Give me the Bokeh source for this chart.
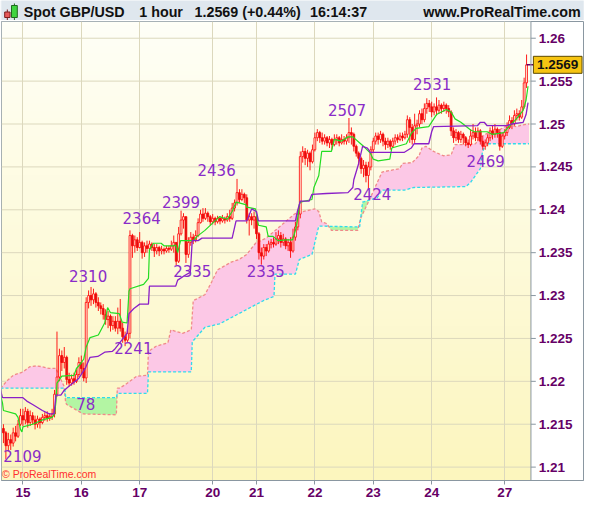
import numpy as np
from bokeh.plotting import figure
from bokeh.layouts import column
from bokeh.models import Range1d, FixedTicker, Span
from bokeh.embed import file_html
from bokeh.resources import INLINE
from bokeh.core.properties import value

# ---------------- data ----------------
day_labels = ["15", "16", "17", "20", "21", "22", "23", "24", "27"]
day_start_bar = [8, 32, 56, 86, 104, 128, 152, 176, 206]
price_ticks = [1.21, 1.215, 1.22, 1.225, 1.23, 1.235, 1.24, 1.245, 1.25, 1.255, 1.26]

first_open = 1.2145
close = [
    1.2140, 1.2125, 1.2132, 1.2128, 1.2140, 1.2136, 1.2150, 1.2160, 1.2155, 1.2165,
    1.2152, 1.2160, 1.2155, 1.2150, 1.2156, 1.2152, 1.2158, 1.2160, 1.2157, 1.2159,
    1.2162, 1.2185, 1.2205, 1.2230, 1.2222, 1.2228, 1.2202, 1.2198, 1.2203, 1.2200,
    1.2208, 1.2222, 1.2215, 1.2204, 1.2292, 1.2300, 1.2295, 1.2302, 1.2292, 1.2288,
    1.2285, 1.2278, 1.2272, 1.2276, 1.2265, 1.2270, 1.2262, 1.2270, 1.2262, 1.2252,
    1.2248, 1.2256, 1.2370, 1.2358, 1.2365, 1.2356, 1.2362, 1.2350, 1.2358, 1.2355,
    1.2360, 1.2356, 1.2352, 1.2356, 1.2352, 1.2354, 1.2352, 1.2355, 1.2354, 1.2358,
    1.2362, 1.2340, 1.2372, 1.2388, 1.2392, 1.2348, 1.2362, 1.2368, 1.2365, 1.2370,
    1.2385, 1.2395, 1.2390, 1.2396, 1.2392, 1.2386, 1.2390, 1.2386, 1.2390, 1.2387,
    1.2390, 1.2388, 1.2392, 1.2390, 1.2402, 1.2408, 1.2420, 1.2412, 1.2418, 1.2414,
    1.2388, 1.2392, 1.2388, 1.2392, 1.2372, 1.2350, 1.2346, 1.2356, 1.2352, 1.2360,
    1.2362, 1.2360, 1.2366, 1.2370, 1.2362, 1.2366, 1.2358, 1.2362, 1.2352, 1.2368,
    1.2380, 1.2395, 1.2462, 1.2468, 1.2460, 1.2466, 1.2456, 1.2470, 1.2484, 1.2490,
    1.2484, 1.2480, 1.2484, 1.2478, 1.2482, 1.2476, 1.2482, 1.2484, 1.2478, 1.2482,
    1.2480, 1.2484, 1.2490, 1.2488, 1.2474, 1.2466, 1.2460, 1.2448, 1.2452, 1.2440,
    1.2450, 1.2470, 1.2480, 1.2486, 1.2482, 1.2488, 1.2480, 1.2476, 1.2480, 1.2474,
    1.2480, 1.2484, 1.2482, 1.2486, 1.2484, 1.2488, 1.2505, 1.2496, 1.2482, 1.2498,
    1.2500, 1.2512, 1.2505, 1.2518, 1.2524, 1.2520, 1.2514, 1.2520, 1.2516, 1.2522,
    1.2518, 1.2522, 1.2518, 1.2514, 1.2492, 1.2484, 1.2490, 1.2482, 1.2488, 1.2484,
    1.2478, 1.2476, 1.2486, 1.2490, 1.2484, 1.2492, 1.2480, 1.2474, 1.2478, 1.2484,
    1.2492, 1.2488, 1.2494, 1.2490, 1.2474, 1.2486, 1.2490, 1.2496, 1.2504, 1.2500,
    1.2510, 1.2512, 1.2508, 1.2520, 1.2548, 1.2569,
]
high = [
    1.2150, 1.2142, 1.2140, 1.2138, 1.2146, 1.2148, 1.2155, 1.2168, 1.2168, 1.2170,
    1.2168, 1.2166, 1.2164, 1.2160, 1.2160, 1.2158, 1.2162, 1.2164, 1.2165, 1.2163,
    1.2168, 1.2190, 1.2258, 1.2238, 1.2236, 1.2240, 1.2230, 1.2210, 1.2208, 1.2210,
    1.2214, 1.2228, 1.2230, 1.2222, 1.2298, 1.2306, 1.2310, 1.2308, 1.2304, 1.2298,
    1.2292, 1.2290, 1.2284, 1.2282, 1.2278, 1.2276, 1.2276, 1.2286, 1.2296, 1.2268,
    1.2258, 1.2262, 1.2376, 1.2372, 1.2370, 1.2368, 1.2374, 1.2364, 1.2362, 1.2364,
    1.2364, 1.2362, 1.2360, 1.2360, 1.2358, 1.2358, 1.2356, 1.2358, 1.2358, 1.2364,
    1.2370, 1.2362, 1.2380, 1.2399, 1.2396, 1.2392, 1.2368, 1.2374, 1.2372, 1.2376,
    1.2390, 1.2400, 1.2402, 1.2402, 1.2398, 1.2394, 1.2395, 1.2392, 1.2393, 1.2392,
    1.2394, 1.2392, 1.2396, 1.2400, 1.2408, 1.2412, 1.2436, 1.2424, 1.2424, 1.2420,
    1.2418, 1.2396, 1.2396, 1.2398, 1.2394, 1.2374, 1.2356, 1.2360, 1.2360, 1.2364,
    1.2366, 1.2368, 1.2374, 1.2376, 1.2374, 1.2372, 1.2368, 1.2366, 1.2368, 1.2378,
    1.2386, 1.2400, 1.2468, 1.2474, 1.2472, 1.2470, 1.2468, 1.2476, 1.2490, 1.2494,
    1.2492, 1.2490, 1.2488, 1.2486, 1.2486, 1.2484, 1.2488, 1.2488, 1.2486, 1.2488,
    1.2486, 1.2488, 1.2507, 1.2496, 1.2490, 1.2476, 1.2468, 1.2462, 1.2458, 1.2456,
    1.2456, 1.2474, 1.2484, 1.2490, 1.2490, 1.2492, 1.2490, 1.2484, 1.2484, 1.2482,
    1.2484, 1.2488, 1.2488, 1.2490, 1.2490, 1.2492, 1.2510, 1.2508, 1.2500, 1.2512,
    1.2505, 1.2516, 1.2518, 1.2524, 1.2530, 1.2528, 1.2526, 1.2524, 1.2531, 1.2528,
    1.2524, 1.2526, 1.2524, 1.2522, 1.2516, 1.2496, 1.2494, 1.2492, 1.2492, 1.2490,
    1.2486, 1.2482, 1.2494, 1.2500, 1.2496, 1.2496, 1.2494, 1.2486, 1.2482, 1.2488,
    1.2496, 1.2498, 1.2500, 1.2496, 1.2494, 1.2490, 1.2494, 1.2502, 1.2510, 1.2508,
    1.2516, 1.2518, 1.2516, 1.2528, 1.2554, 1.2581,
]
low = [
    1.2128, 1.2109, 1.2118, 1.2120, 1.2124, 1.2130, 1.2134, 1.2148, 1.2148, 1.2150,
    1.2146, 1.2148, 1.2150, 1.2144, 1.2146, 1.2145, 1.2150, 1.2154, 1.2153, 1.2154,
    1.2155, 1.2158, 1.2182, 1.2200, 1.2212, 1.2215, 1.2196, 1.2194, 1.2195, 1.2196,
    1.2198, 1.2205, 1.2208, 1.2200, 1.2198, 1.2285, 1.2288, 1.2290, 1.2286, 1.2282,
    1.2278, 1.2272, 1.2266, 1.2262, 1.2258, 1.2260, 1.2258, 1.2255, 1.2258, 1.2245,
    1.2241, 1.2246, 1.2250, 1.2344, 1.2350, 1.2352, 1.2355, 1.2343, 1.2345, 1.2350,
    1.2352, 1.2352, 1.2345, 1.2348, 1.2346, 1.2348, 1.2348, 1.2350, 1.2350, 1.2352,
    1.2350, 1.2335, 1.2338, 1.2370, 1.2378, 1.2338, 1.2344, 1.2358, 1.2360, 1.2362,
    1.2368, 1.2384, 1.2386, 1.2388, 1.2386, 1.2382, 1.2383, 1.2382, 1.2384, 1.2383,
    1.2385, 1.2384, 1.2386, 1.2386, 1.2388, 1.2398, 1.2405, 1.2408, 1.2410, 1.2408,
    1.2384, 1.2370, 1.2382, 1.2378, 1.2366, 1.2342, 1.2336, 1.2342, 1.2346, 1.2350,
    1.2355, 1.2356, 1.2358, 1.2360, 1.2356, 1.2358, 1.2354, 1.2352, 1.2344, 1.2350,
    1.2364, 1.2376, 1.2390, 1.2455, 1.2452, 1.2450, 1.2446, 1.2454, 1.2468, 1.2480,
    1.2478, 1.2476, 1.2476, 1.2474, 1.2472, 1.2470, 1.2474, 1.2476, 1.2474, 1.2476,
    1.2476, 1.2476, 1.2478, 1.2476, 1.2468, 1.2462, 1.2452, 1.2442, 1.2438, 1.2432,
    1.2424, 1.2446, 1.2466, 1.2476, 1.2476, 1.2478, 1.2474, 1.2470, 1.2472, 1.2470,
    1.2472, 1.2476, 1.2478, 1.2480, 1.2480, 1.2482, 1.2484, 1.2478, 1.2476, 1.2478,
    1.2488, 1.2496, 1.2500, 1.2502, 1.2512, 1.2514, 1.2508, 1.2510, 1.2510, 1.2512,
    1.2512, 1.2514, 1.2512, 1.2508, 1.2486, 1.2478, 1.2480, 1.2478, 1.2478, 1.2476,
    1.2474, 1.2472, 1.2474, 1.2482, 1.2480, 1.2480, 1.2476, 1.2470, 1.2470, 1.2474,
    1.2480, 1.2482, 1.2484, 1.2484, 1.2469, 1.2472, 1.2482, 1.2486, 1.2494, 1.2494,
    1.2498, 1.2504, 1.2504, 1.2506, 1.2518, 1.2542,
]

# Tenkan-sen (green) and Kijun-sen (purple), read as (bar, price) points
tenkan_bar = [-1.2, -0.4, 0, 5, 6, 7, 7.6, 8, 12, 16, 20, 21, 21.6, 22, 24, 29, 30, 31.6, 33, 34,
              35.6, 39, 41.6, 42.8, 44, 47.6, 48.8, 50.8, 51.6, 52, 57.6, 59.6, 60, 61.6, 64.8, 66,
              70, 70.8, 71.6, 72.8, 78, 79.6, 82.8, 88.8, 92, 94, 95.6, 99.6, 100, 103.6, 104.8, 108,
              108.8, 110.8, 112.8, 116, 118.8, 120, 120.8, 121.6, 122, 126.8, 127.6, 129.6, 130.8,
              134.8, 136, 138.8, 141.6, 143.6, 146.8, 148, 150.8, 152, 154, 158.8, 159.6, 165.6,
              167.6, 169.6, 174.8, 178, 180, 182, 184, 185.6, 188, 192, 193.6, 198.8, 200.8, 203.6,
              205.6, 206.8, 210.8, 213.6, 214.8, 215.6]
tenkan_val = [1.2184, 1.2175, 1.2166, 1.2162, 1.2158, 1.2144, 1.2141, 1.2147, 1.2150, 1.2155,
              1.2158, 1.2162, 1.2177, 1.2198, 1.2206, 1.2207, 1.2215, 1.2220, 1.2226, 1.2240,
              1.2251, 1.2254, 1.2268, 1.2286, 1.2280, 1.2279, 1.2269, 1.2268, 1.2305, 1.2308,
              1.2313, 1.2320, 1.2353, 1.2361, 1.2361, 1.2358, 1.2358, 1.2359, 1.2350, 1.2364,
              1.2364, 1.2369, 1.2376, 1.2392, 1.2389, 1.2398, 1.2409, 1.2406, 1.2403, 1.2401,
              1.2382, 1.2380, 1.2369, 1.2369, 1.2364, 1.2365, 1.2365, 1.2376, 1.2387, 1.2406,
              1.2409, 1.2412, 1.2426, 1.2440, 1.2468, 1.2468, 1.2482, 1.2480, 1.2485, 1.2485,
              1.2477, 1.2474, 1.2466, 1.2459, 1.2457, 1.2459, 1.2472, 1.2477, 1.2489, 1.2495,
              1.2497, 1.2511, 1.2514, 1.2517, 1.2514, 1.2506, 1.2502, 1.2493, 1.2491, 1.2491,
              1.2488, 1.2489, 1.2490, 1.2494, 1.2506, 1.2516, 1.2528, 1.2544]
kijun_bar = [-1.2, -0.4, 8, 9.6, 12, 16, 18.8, 20.8, 21.6, 23.6, 24.8, 26.8, 30.8, 33.6, 35.6, 38.8,
             41.6, 44.8, 45.6, 50.8, 51.6, 53.6, 56, 59.6, 60, 70.8, 71.6, 74.8, 76.8, 77.6, 80, 81.6,
             94, 95.6, 100, 102, 104, 104.8, 120, 120.8, 122, 125.6, 126.8, 132.8, 141.6, 143.6, 144,
             146, 147.6, 149.6, 150.8, 164.8, 167.6, 168.8, 174.8, 176, 176.8, 194.8, 196, 197.6,
             198.8, 206.8, 208.8, 213.6, 214.8, 215.6]
kijun_val = [1.2190, 1.2181, 1.2181, 1.2177, 1.2173, 1.2166, 1.2162, 1.2162, 1.2184, 1.2184,
             1.2189, 1.2194, 1.2203, 1.2215, 1.2228, 1.2229, 1.2234, 1.2235, 1.2237, 1.2256,
             1.2279, 1.2285, 1.2290, 1.2290, 1.2311, 1.2311, 1.2318, 1.2324, 1.2327, 1.2364,
             1.2364, 1.2367, 1.2367, 1.2387, 1.2387, 1.2401, 1.2398, 1.2387, 1.2387, 1.2398,
             1.2410, 1.2410, 1.2418, 1.2419, 1.2420, 1.2426, 1.2435, 1.2454, 1.2474, 1.2472,
             1.2467, 1.2467, 1.2472, 1.2477, 1.2477, 1.2491, 1.2497, 1.2498, 1.2502, 1.2502,
             1.2498, 1.2498, 1.2500, 1.2502, 1.2511, 1.2525]
# Cloud edges: span A (red dashed) and span B (cyan dashed)
spanA_bar = [-1.2, 1.6, 4, 8, 10.8, 13.6, 16, 18.8, 21.6, 22.8, 24.8, 25.6, 26, 32.8, 46.4, 46.8,
             47.6, 50, 54.8, 59.2, 59.6, 62.8, 67.6, 68.8, 73.6, 77.2, 78, 82.8, 85.6, 88, 93.6,
             96.8, 100, 103.6, 108, 119.6, 121.6, 128, 129.6, 130.8, 132.8, 134.8, 145.6, 146.8,
             150.8, 155.6, 162.8, 164, 168, 170.8, 172, 173.6, 176.8, 180.8, 184, 185.6, 189.6,
             194, 196, 198.8, 203.6, 207.6, 210.8, 213.6, 216]
spanA_val = [1.2192, 1.2201, 1.2207, 1.2211, 1.2217, 1.2218, 1.2217, 1.2215, 1.2215, 1.2207,
             1.2195, 1.2175, 1.2173, 1.2162, 1.2161, 1.2192, 1.2192, 1.2196, 1.2206, 1.2207,
             1.2235, 1.2241, 1.2245, 1.2260, 1.2256, 1.2260, 1.2294, 1.2301, 1.2316, 1.2330,
             1.2339, 1.2342, 1.2348, 1.2361, 1.2367, 1.2395, 1.2397, 1.2401, 1.2398, 1.2386,
             1.2384, 1.2376, 1.2376, 1.2390, 1.2414, 1.2444, 1.2448, 1.2454, 1.2455, 1.2463,
             1.2472, 1.2474, 1.2468, 1.2463, 1.2464, 1.2476, 1.2476, 1.2477, 1.2485, 1.2489,
             1.2493, 1.2499, 1.2497, 1.2499, 1.2500]
spanB_bar = [-1.2, 25.2, 25.6, 46.4, 46.8, 59.2, 59.6, 77.2, 77.6, 82.8, 88.8, 100.8, 106.8, 111.2,
             111.6, 120, 121.6, 126.8, 129.6, 146.4, 147.6, 153.6, 155.6, 164.8, 168.8, 190, 192,
             196, 196.8, 198, 216]
spanB_val = [1.2192, 1.2192, 1.2181, 1.2181, 1.2186, 1.2186, 1.2211, 1.2211, 1.2246, 1.2263,
             1.2267, 1.2285, 1.2294, 1.2299, 1.2325, 1.2325, 1.2342, 1.2348, 1.2381, 1.2380,
             1.2409, 1.2414, 1.2423, 1.2423, 1.2426, 1.2427, 1.2432, 1.2448, 1.2466, 1.2477,
             1.2477]
# extreme-value annotations: text, bar, price of text centre
ann_text = ["2109", "78", "2310", "2241", "2364", "2399", "2335", "2436", "2335",
            "2507", "2424", "2531", "2469"]
ann_bar = [7.8, 33.8, 34.8, 53.4, 56.8, 73.0, 77.6, 87.6, 107.8, 141.2, 151.6, 176.2, 198.2]
ann_price = [1.2113, 1.2174, 1.2323, 1.2239, 1.2391, 1.2409, 1.2329, 1.2446, 1.2329,
             1.2516, 1.2418, 1.2547, 1.2457]

# ---------------- styling ----------------
W = 584
HEAD_H = 20
MAIN_H = 483
X0, X1 = -0.8, 216.8      # price-pane extent (bars)
XR = 238.4                # right edge of the price-scale strip
Y0, Y1 = 1.20844, 1.26195
AXIS_C = "#8a97a1"
LABEL_C = "#660066"
ANN_C = "#8a2cc8"
FONT = "Liberation Sans"

# header bar
head = figure(width=W, height=HEAD_H, x_range=Range1d(0, 600), y_range=Range1d(20, 0),
              output_backend="svg", toolbar_location=None, min_border=0)
head.axis.visible = False
head.grid.visible = False
head.outline_line_color = None
head.background_fill_color = "#dfe7ee"
head.border_fill_color = "#dfe7ee"
head.segment(x0=[6, 13.3], y0=[9, 3], x1=[6, 13.3], y1=[19.5, 19.5],
             color=["#7a1f1f", "#1f6a1f"], line_width=1)
head.quad(left=[3.3, 10.3], right=[8.8, 16.3], top=[11.5, 5], bottom=[17, 17],
          fill_color=["#e85a5a", "#3fd53f"], line_color=["#7a1f1f", "#1f6a1f"])
head.text(x=[23, 142, 199, 318], y=[11, 11, 11, 11],
          text=["Spot GBP/USD", "1 hour", "1.2569 (+0.44%)", "16:14:37"],
          text_font=value(FONT), text_font_style="bold", text_font_size="14.3px",
          text_color="#111111", text_baseline="middle", text_align="left")
head.text(x=[597], y=[11], text=["www.ProRealTime.com"],
          text_font=value(FONT), text_font_style="bold", text_font_size="14.3px",
          text_color="#111111", text_baseline="middle", text_align="right")

# main chart (frame covers price pane + price scale strip)
p = figure(width=W, height=MAIN_H, x_range=Range1d(X0, XR), y_range=Range1d(Y0, Y1),
           output_backend="svg", toolbar_location=None, y_axis_location=None,
           min_border_left=1, min_border_right=1, min_border_top=1, min_border_bottom=23)
p.border_fill_color = "white"
p.background_fill_color = "white"
p.outline_line_color = AXIS_C

# soft vertical gradient background of the price pane
ny = 128
t = np.linspace(0.0, 1.0, ny)[:, None]
top_c = np.array([255, 255, 247], dtype=float)
bot_c = np.array([252, 246, 190], dtype=float)
cols = bot_c + (top_c - bot_c) * t
img = np.empty((ny, 1), dtype=np.uint32)
view = img.view(dtype=np.uint8).reshape((ny, 1, 4))
view[:, 0, 0] = cols[:, 0]
view[:, 0, 1] = cols[:, 1]
view[:, 0, 2] = cols[:, 2]
view[:, 0, 3] = 255
p.image_rgba(image=[img], x=X0, y=Y0, dw=X1 - X0, dh=Y1 - Y0, level="image")

# bottom (date) axis
p.xaxis.ticker = FixedTicker(ticks=day_start_bar)
p.xaxis.major_label_overrides = {b: d for b, d in zip(day_start_bar, day_labels)}
p.xaxis.axis_line_color = AXIS_C
p.xaxis.major_tick_line_color = AXIS_C
p.xaxis.minor_tick_line_color = None
p.xaxis.major_tick_in = 0
p.xaxis.major_tick_out = 4
p.xaxis.major_label_standoff = 3
p.xaxis.major_label_text_font = FONT
p.xaxis.major_label_text_font_style = "bold"
p.xaxis.major_label_text_font_size = "13.5px"
p.xaxis.major_label_text_color = LABEL_C
p.xgrid.grid_line_color = "#dcd8bd"
p.ygrid.visible = False

# horizontal price grid inside the pane
p.segment(x0=X0, x1=X1, y0=price_ticks, y1=price_ticks, line_color="#dcd8bd",
          line_width=1, level="underlay")

# price scale (right)
p.add_layout(Span(location=X1, dimension="height", line_color=AXIS_C, line_width=1))
p.segment(x0=X1, x1=X1 + 2.0, y0=price_ticks, y1=price_ticks, line_color=AXIS_C, line_width=1)
p.text(x=[X1 + 3.2] * len(price_ticks), y=price_ticks,
       text=[("%.4f" % v).rstrip("0") for v in price_ticks],
       text_font=value(FONT), text_font_style="bold", text_font_size="13.5px",
       text_color=LABEL_C, text_align="left", text_baseline="middle")

# cloud fill
grid = np.arange(-1.2, 216.0001, 0.05)
a = np.interp(grid, spanA_bar, spanA_val)
b = np.interp(grid, spanB_bar, spanB_val)
hi = np.maximum(a, b)
p.varea(x=grid, y1=b, y2=hi, fill_color="#fcc8e6", fill_alpha=1.0)
p.varea(x=grid, y1=a, y2=hi, fill_color="#b3f5a3", fill_alpha=1.0)
p.line(spanA_bar, spanA_val, line_color="#f08a8a", line_width=1.3, line_dash="3 2")
p.line(spanB_bar, spanB_val, line_color="#2fdcec", line_width=1.3, line_dash="3 2")

# candles
bars = np.arange(len(close))
c = np.array(close)
o = np.concatenate([[first_open], c[:-1]])
h = np.maximum(np.array(high), np.maximum(o, c))
l = np.minimum(np.array(low), np.minimum(o, c))
up = c >= o
p.segment(x0=bars, y0=l, x1=bars, y1=h, line_color="#ff0000", line_width=0.9)
p.vbar(x=bars[up], width=0.75, top=c[up], bottom=o[up], fill_color="#fffbe8",
       line_color="#ff0000", line_width=0.8)
p.vbar(x=bars[~up], width=0.75, top=o[~up], bottom=c[~up], fill_color="#d01818",
       line_color="#ff0000", line_width=0.8)

# ichimoku lines
p.line(tenkan_bar, tenkan_val, line_color="#22dd22", line_width=1.2)
p.line(kijun_bar, kijun_val, line_color="#8a1fc8", line_width=1.3)

# annotations
p.text(x=ann_bar, y=ann_price, text=ann_text, text_font=value("DejaVu Sans"),
       text_font_size="15px", text_color=ANN_C, text_align="center", text_baseline="middle")
p.text(x=[-0.6], y=[1.20918], text=["\u00a9 ProRealTime.com"], text_font=value(FONT),
       text_font_size="10.5px", text_color="#ff3030", text_align="left", text_baseline="middle")

# last price pointer and tag on the price scale
last_bar = len(close) - 1
p.segment(x0=[last_bar], x1=[X1 + 1.0], y0=[close[-1]], y1=[close[-1]],
          line_color=LABEL_C, line_width=1.5)
p.rect(x=[(X1 + 1.0 + XR - 0.6) / 2], y=[close[-1]], width=[XR - 0.6 - X1 - 1.0], height=[17],
       height_units="screen", fill_color="#f6c412", line_color="#5c4a00", line_width=1)
p.text(x=[(X1 + 1.0 + XR - 0.6) / 2], y=[close[-1]], text=["%.4f" % close[-1]],
       text_font=value(FONT), text_font_style="bold", text_font_size="13.5px",
       text_color="#111111", text_align="center", text_baseline="middle")

layout = column(head, p, spacing=0)
open("out.html", "w").write(file_html(layout, INLINE))
